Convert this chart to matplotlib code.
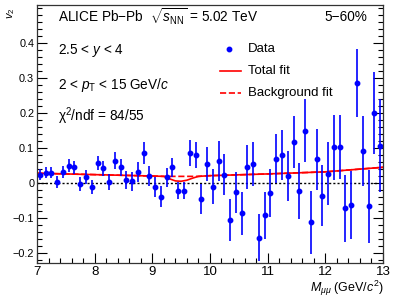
import matplotlib
matplotlib.use("Agg")
import matplotlib.pyplot as plt
from matplotlib.ticker import MultipleLocator

# ==========================================
# Data
# ==========================================

mass = [7.05, 7.15, 7.25, 7.35, 7.45, 7.55, 7.65, 7.75, 7.85, 7.95,
        8.05, 8.15, 8.25, 8.35, 8.45, 8.55, 8.65, 8.75, 8.85, 8.95,
        9.05, 9.15, 9.25, 9.35, 9.45, 9.55, 9.65, 9.75, 9.85, 9.95,
        10.05, 10.15, 10.25, 10.35, 10.45, 10.55, 10.65, 10.75, 10.85, 10.95,
        11.05, 11.15, 11.25, 11.35, 11.45, 11.55, 11.65, 11.75, 11.85, 11.95,
        12.05, 12.15, 12.25, 12.35, 12.45, 12.55, 12.65, 12.75, 12.85, 12.95]

v2 = [0.024, 0.030, 0.030, 0.003, 0.032, 0.050, 0.045, -0.003, 0.016, -0.011,
      0.057, 0.042, 0.004, 0.064, 0.045, 0.009, 0.005, 0.031, 0.086, 0.019,
      -0.011, -0.039, 0.016, 0.045, -0.022, -0.022, 0.086, 0.080, -0.046, 0.054,
      -0.011, 0.064, 0.024, -0.105, -0.027, -0.087, 0.045, 0.054, -0.157, -0.093,
      -0.029, 0.069, 0.081, 0.021, 0.117, -0.022, 0.150, -0.113, 0.068, -0.036,
      0.027, 0.102, 0.104, -0.073, -0.063, 0.286, 0.092, -0.067, 0.200, 0.107]

v2_err = [0.016, 0.016, 0.017, 0.017, 0.018, 0.019, 0.019, 0.020, 0.020, 0.021,
          0.021, 0.022, 0.023, 0.024, 0.025, 0.026, 0.027, 0.028, 0.031, 0.029,
          0.029, 0.029, 0.028, 0.027, 0.024, 0.025, 0.036, 0.038, 0.043, 0.048,
          0.050, 0.057, 0.058, 0.060, 0.058, 0.062, 0.063, 0.064, 0.067, 0.068,
          0.068, 0.070, 0.072, 0.072, 0.075, 0.080, 0.090, 0.090, 0.088, 0.088,
          0.090, 0.092, 0.092, 0.095, 0.096, 0.098, 0.100, 0.105, 0.117, 0.133]

# Fit curves
fit_mass = [7.0, 8.0, 9.0, 9.2, 9.3, 9.4, 9.5, 9.6, 9.7, 9.8, 10.0, 11.0, 12.0, 13.0]
total_fit = [0.028, 0.024, 0.020, 0.019, 0.012, 0.006, 0.005, 0.008, 0.014, 0.019,
             0.021, 0.026, 0.032, 0.045]
bkg_fit = [0.028, 0.024, 0.020, 0.019, 0.019, 0.019, 0.019, 0.019, 0.019, 0.019,
           0.021, 0.026, 0.032, 0.045]

# ==========================================
# Style
# ==========================================

plt.rcParams["font.family"] = ["Liberation Sans", "DejaVu Sans"]
plt.rcParams["mathtext.fontset"] = "custom"
plt.rcParams["mathtext.rm"] = "Liberation Sans"
plt.rcParams["mathtext.it"] = "Liberation Sans:italic"
plt.rcParams["mathtext.bf"] = "Liberation Sans:bold"

fig = plt.figure(figsize=(3.99, 2.99), dpi=100)
ax = fig.add_axes([0.0927, 0.1194, 0.867, 0.864])

# Fits
ax.plot(fit_mass, bkg_fit, color="red", linestyle="--", linewidth=1.2)
ax.plot(fit_mass, total_fit, color="red", linestyle="-", linewidth=1.2)

# Zero line
ax.axhline(0, color="black", linestyle=(0, (1.5, 1.5)), linewidth=1.0)

# Data
ax.errorbar(mass, v2, yerr=v2_err, xerr=0.025, fmt="o", color="blue",
            markersize=3.2, elinewidth=1.2, capsize=0)

ax.set_xlim(7, 13)
ax.set_ylim(-0.23, 0.51)

ax.xaxis.set_major_locator(MultipleLocator(1))
ax.xaxis.set_minor_locator(MultipleLocator(0.2))
ax.yaxis.set_major_locator(MultipleLocator(0.1))
ax.yaxis.set_minor_locator(MultipleLocator(0.02))
ax.set_yticks([-0.2, -0.1, 0, 0.1, 0.2, 0.3, 0.4])
ax.set_yticklabels(["\u22120.2", "\u22120.1", "0", "0.1", "0.2", "0.3", "0.4"])

ax.tick_params(axis="both", which="both", direction="in", right=True, top=False)
ax.tick_params(axis="both", which="major", length=7, width=0.8)
ax.tick_params(axis="both", which="minor", length=3.6, width=0.8)
ax.tick_params(axis="x", labelsize=9.5, pad=2)
ax.tick_params(axis="y", labelsize=7.8, pad=2)
for s in ax.spines.values():
    s.set_linewidth(0.9)
    s.set_color("#333333")

# Axis titles
fig.text(0.012, 0.975, r"$v_2$", rotation=90, ha="left", va="top", fontsize=8)
fig.text(0.962, 0.005, r"$M_{\mu\mu}$ (GeV/$c^2$)", ha="right", va="bottom",
         fontsize=9)

# Labels
ax.text(0.06, 0.955, r"ALICE Pb$-$Pb  $\sqrt{s_{\rm NN}}$ = 5.02 TeV",
        transform=ax.transAxes, ha="left", va="center", fontsize=9.8)
ax.text(0.955, 0.955, "5\u221260%", transform=ax.transAxes,
        ha="right", va="center", fontsize=9.8)
ax.text(0.06, 0.825, r"2.5 < $y$ < 4", transform=ax.transAxes,
        ha="left", va="center", fontsize=9.8)
ax.text(0.06, 0.69, r"2 < $p_{\rm T}$ < 15 GeV/$c$", transform=ax.transAxes,
        ha="left", va="center", fontsize=9.8)
ax.text(0.06, 0.57, "\u03c7$^2$/ndf = 84/55", transform=ax.transAxes,
        ha="left", va="center", fontsize=9.8)

# Legend drawn by hand in axes coordinates
ax.plot([0.555], [0.83], "o", color="blue", markersize=3.2, transform=ax.transAxes)
ax.text(0.61, 0.83, "Data", transform=ax.transAxes, ha="left", va="center", fontsize=9.5)
ax.plot([0.53, 0.59], [0.745, 0.745], color="red", linewidth=1.2, transform=ax.transAxes)
ax.text(0.61, 0.745, "Total fit", transform=ax.transAxes, ha="left", va="center", fontsize=9.5)
ax.plot([0.53, 0.59], [0.66, 0.66], color="red", linestyle="--", linewidth=1.2,
        transform=ax.transAxes)
ax.text(0.61, 0.66, "Background fit", transform=ax.transAxes, ha="left", va="center",
        fontsize=9.5)

fig.savefig("out.png", dpi=100)
